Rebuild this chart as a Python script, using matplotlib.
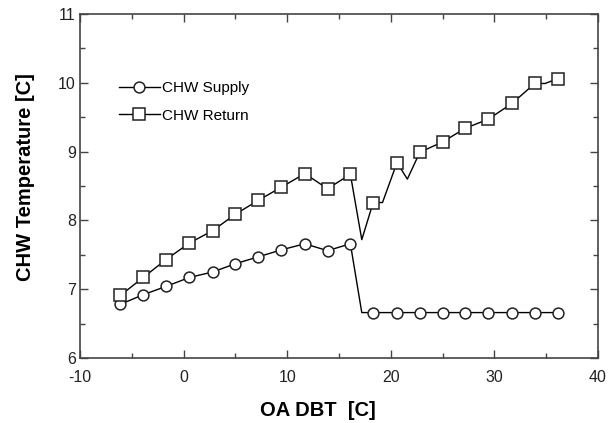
import matplotlib
matplotlib.use("Agg")
import matplotlib.pyplot as plt
from matplotlib.ticker import MultipleLocator

# outdoor air dry bulb [C]; unmarked vertices are kinks in the traced curves
SUPPLY_X = [-6.1, -3.9, -1.7, 0.55, 2.8, 5.0, 7.2, 9.4, 11.7, 13.9, 16.1, 17.2,
            18.3, 20.6, 22.8, 25.0, 27.2, 29.4, 31.7, 33.9, 36.1]
SUPPLY_Y = [6.78, 6.92, 7.04, 7.17, 7.25, 7.37, 7.47, 7.57, 7.66, 7.56, 7.66, 6.66,
            6.66, 6.66, 6.66, 6.66, 6.66, 6.66, 6.66, 6.66, 6.66]
SUPPLY_UNMARKED = [11]

RETURN_X = [-6.1, -3.9, -1.7, 0.55, 2.8, 5.0, 7.2, 9.4, 11.7, 13.9, 16.1, 17.2,
            18.3, 19.2, 20.6, 21.6, 22.8, 25.0, 27.2, 29.4, 31.7, 33.9, 34.9, 36.1]
RETURN_Y = [6.91, 7.17, 7.43, 7.67, 7.85, 8.09, 8.29, 8.48, 8.68, 8.46, 8.67, 7.72,
            8.26, 8.26, 8.84, 8.60, 8.99, 9.14, 9.34, 9.47, 9.70, 9.99, 9.99, 10.06]
RETURN_UNMARKED = [11, 13, 15, 22]

X_TICKS = [-10, 0, 10, 20, 30, 40]
Y_TICKS = [6, 7, 8, 9, 10, 11]

AXIS_COLOR = "#444444"


def _marked(n, skip):
	return [i for i in range(n) if i not in skip]


def main():
	plt.rcParams["font.family"] = ["Liberation Sans", "DejaVu Sans"]
	plt.rcParams["axes.unicode_minus"] = False

	fig = plt.figure(figsize=(6.14, 4.23), dpi=100)
	ax = fig.add_axes([0.1303, 0.1537, 0.8436, 0.8132])

	ax.plot(SUPPLY_X, SUPPLY_Y, color="black", linewidth=1.0, marker="o", markersize=7.8,
	        markerfacecolor="white", markeredgecolor="#222222", markeredgewidth=1.1,
	        markevery=_marked(len(SUPPLY_X), SUPPLY_UNMARKED), label="CHW Supply")
	ax.plot(RETURN_X, RETURN_Y, color="black", linewidth=1.0, marker="s", markersize=8,
	        markerfacecolor="white", markeredgecolor="#222222", markeredgewidth=1.1,
	        markevery=_marked(len(RETURN_X), RETURN_UNMARKED), label="CHW Return")

	ax.set_xlim(-10, 40)
	ax.set_ylim(6, 11)
	ax.set_xticks(X_TICKS)
	ax.set_yticks(Y_TICKS)
	ax.xaxis.set_minor_locator(MultipleLocator(5))
	ax.yaxis.set_minor_locator(MultipleLocator(0.5))
	ax.tick_params(which="both", direction="in", top=True, right=True, labeltop=False,
	               labelright=False, color=AXIS_COLOR, width=1.0, labelsize=11.5, labelcolor="#222222")
	ax.tick_params(which="major", length=5.5)
	ax.tick_params(which="minor", length=3.5)
	ax.tick_params(axis="x", which="major", pad=9)
	ax.tick_params(axis="y", which="major", pad=3)
	for spine in ax.spines.values():
		spine.set_color(AXIS_COLOR)
		spine.set_linewidth(1.2)

	ax.set_xlabel("OA DBT  [C]", fontsize=14.5, fontweight="bold")
	ax.xaxis.set_label_coords(0.46, -0.125)
	ax.set_ylabel("CHW Temperature [C]", fontsize=14.5, fontweight="bold")
	ax.yaxis.set_label_coords(-0.086, 0.525)

	ax.legend(loc="upper left", bbox_to_anchor=(0.075, 0.805), frameon=False, fontsize=11,
	          handlelength=2.7, handletextpad=0.15, labelspacing=0.9, borderpad=0,
	          borderaxespad=0)

	fig.savefig("out.png", dpi=100)
	plt.close(fig)


if __name__ == "__main__":
	main()
